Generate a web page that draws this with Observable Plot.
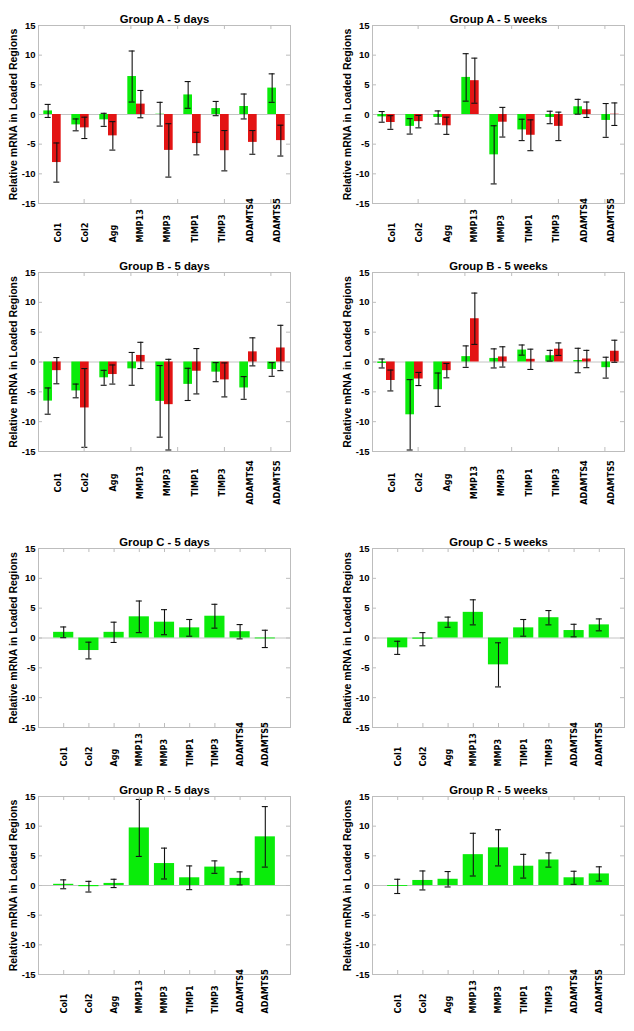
<!DOCTYPE html>
<html><head><meta charset="utf-8">
<script src="https://cdn.jsdelivr.net/npm/d3@7"></script>
<script src="https://cdn.jsdelivr.net/npm/@observablehq/plot@0.6"></script>
<style>
body{margin:0;background:#fff;font-family:"Liberation Sans",Arial,sans-serif}
#root{position:relative;width:634px;height:1031px;overflow:hidden;background:#fff}
#root svg{position:absolute}
</style></head><body><div id="root"></div>
<script>
const genes = ["Col1","Col2","Agg","MMP13","MMP3","TIMP1","TIMP3","ADAMTS4","ADAMTS5"];
const yTicks = [-15,-10,-5,0,5,10,15];
const singleXTicks = [1,2,3,4,5,6,7,8,9];
const groupXTicks = [2.13,3.8,5.47,7.14,8.8];
const yLabel = "Relative mRNA in Loaded Regions";

// Group A - 5 days (green / red series)
const aDaysGreen    = [0.6,-1.75,-0.9,6.4,0.05,3.3,1.0,1.35,4.45];
const aDaysGreenErr = [1.1,1.0,1.1,4.3,2.0,2.25,1.2,2.1,2.4];
const aDaysRed      = [-8.1,-2.25,-3.6,1.75,-6.05,-4.9,-6.1,-4.7,-4.4];
const aDaysRedErr   = [3.3,1.8,2.4,2.3,4.5,1.9,3.4,2.0,2.6];
// Group A - 5 weeks
const aWeeksGreen    = [-0.4,-2.0,-0.5,6.25,-6.8,-2.6,-0.5,1.3,-1.0];
const aWeeksGreenErr = [0.9,1.3,1.1,4.0,4.9,1.8,1.05,1.25,2.85];
const aWeeksRed      = [-1.35,-1.2,-1.9,5.7,-1.3,-3.5,-2.0,0.8,0.05];
const aWeeksRedErr   = [1.15,1.05,1.45,3.8,2.5,2.6,2.4,1.3,1.9];
// Group B - 5 days
const bDaysGreen    = [-6.55,-4.85,-2.65,-1.15,-6.6,-3.75,-1.7,-4.35,-1.25];
const bDaysGreenErr = [2.2,1.15,1.25,2.75,6.0,2.7,1.6,1.9,1.15];
const bDaysRed      = [-1.45,-7.7,-2.1,1.1,-7.15,-1.55,-3.0,1.7,2.35];
const bDaysRedErr   = [2.2,6.6,1.6,2.2,7.6,3.8,2.85,2.35,3.8];
// Group B - 5 weeks
const bWeeksGreen    = [-0.25,-8.85,-4.65,0.9,0.6,2.0,1.05,0.25,-0.95];
const bWeeksGreenErr = [0.75,5.9,2.8,1.8,1.6,0.85,0.9,2.05,1.75];
const bWeeksRed      = [-3.1,-2.85,-1.45,7.25,0.85,0.45,2.15,0.5,1.8];
const bWeeksRedErr   = [1.75,1.1,1.2,4.3,1.7,1.7,1.05,1.45,1.85];
// Group C
const cDays     = [0.95,-2.1,0.95,3.55,2.65,1.7,3.65,1.05,-0.15];
const cDaysErr  = [0.9,1.4,1.7,2.65,2.1,1.4,2.0,1.2,1.45];
const cWeeks    = [-1.65,-0.2,2.65,4.3,-4.5,1.7,3.4,1.25,2.2];
const cWeeksErr = [1.1,1.1,0.85,2.1,3.7,1.4,1.2,1.05,1.0];
// Group R
const rDays     = [0.2,-0.2,0.35,9.7,3.7,1.3,3.1,1.2,8.2];
const rDaysErr  = [0.75,0.9,0.7,4.8,2.6,2.0,1.05,1.1,5.1];
const rWeeks    = [-0.15,0.85,1.05,5.2,6.35,3.25,4.3,1.3,1.95];
const rWeeksErr = [1.2,1.6,1.3,3.6,3.05,2.0,1.2,1.1,1.2];

const GREEN = "#0aec0a", RED = "#e31414", AXIS = "#bdbdbd";

const rows = [
  {plotTop: 25,  plotH: 178, labelMode: "start"},
  {plotTop: 272, plotH: 179, labelMode: "middle"},
  {plotTop: 548, plotH: 179, labelMode: "start"},
  {plotTop: 796, plotH: 178, labelMode: "start"}
];
const cols = [
  {left: 0,   marginLeft: 38, marginRight: 27},
  {left: 317, marginLeft: 55, marginRight: 10}
];

const panels = [
  {title:"Group A - 5 days",  row:0, col:0, series:[[aDaysGreen,aDaysGreenErr,GREEN],[aDaysRed,aDaysRedErr,RED]]},
  {title:"Group A - 5 weeks", row:0, col:1, series:[[aWeeksGreen,aWeeksGreenErr,GREEN],[aWeeksRed,aWeeksRedErr,RED]]},
  {title:"Group B - 5 days",  row:1, col:0, series:[[bDaysGreen,bDaysGreenErr,GREEN],[bDaysRed,bDaysRedErr,RED]]},
  {title:"Group B - 5 weeks", row:1, col:1, series:[[bWeeksGreen,bWeeksGreenErr,GREEN],[bWeeksRed,bWeeksRedErr,RED]]},
  {title:"Group C - 5 days",  row:2, col:0, series:[[cDays,cDaysErr,GREEN]]},
  {title:"Group C - 5 weeks", row:2, col:1, series:[[cWeeks,cWeeksErr,GREEN]]},
  {title:"Group R - 5 days",  row:3, col:0, series:[[rDays,rDaysErr,GREEN]]},
  {title:"Group R - 5 weeks", row:3, col:1, series:[[rWeeks,rWeeksErr,GREEN]]}
];

const root = document.getElementById("root");
const MT = 25, MB = 62;

for (const p of panels) {
  const row = rows[p.row], col = cols[p.col];
  const grouped = p.series.length === 2;
  const xDomain = grouped ? [0.5, 9.5] : [0, 10];
  const pxPerUnit = 252 / (xDomain[1] - xDomain[0]);
  const pxPerY = row.plotH / 30;
  const barW = grouped ? 0.31 : 0.8;
  const capHalf = 3 / pxPerUnit;
  const tickLenX = 4 / pxPerUnit;
  const tickLenY = 4 / pxPerY;

  // build table rows from the arrays
  const bars = [];
  p.series.forEach(([vals, errs, color], s) => {
    vals.forEach((v, i) => {
      const c = i + 1;
      let x1, x2;
      if (grouped) { x1 = s === 0 ? c - barW : c; x2 = s === 0 ? c : c + barW; }
      else { x1 = c - barW / 2; x2 = c + barW / 2; }
      bars.push({gene: genes[i], x1, x2, xc: (x1 + x2) / 2, v, e: errs[i], color});
    });
  });
  const xTicks = grouped ? groupXTicks : singleXTicks;

  // category labels sit below the frame (offset in px converted to data units)
  const labelOffsetPx = row.labelMode === "start" ? 39 : 31;
  const labelY = -15 - labelOffsetPx / pxPerY;
  const labelX = grouped ? (d, i) => i + 1 + (5.5 - 0.6 * i) / pxPerUnit : (d, i) => i + 1;

  const marks = [
    Plot.ruleY([0], {stroke: "#c4c4c4", strokeWidth: 1}),
    Plot.rect(bars, {x1: "x1", x2: "x2", y1: 0, y2: "v", fill: "color"}),
    Plot.ruleX(bars, {x: "xc", y1: d => d.v - d.e, y2: d => d.v + d.e, stroke: "#111", strokeWidth: 1.1}),
    Plot.ruleY(bars, {y: d => d.v + d.e, x1: d => d.xc - capHalf, x2: d => d.xc + capHalf, stroke: "#111", strokeWidth: 1.1}),
    Plot.ruleY(bars, {y: d => d.v - d.e, x1: d => d.xc - capHalf, x2: d => d.xc + capHalf, stroke: "#111", strokeWidth: 1.1}),
    // inward ticks
    Plot.ruleY(yTicks, {y: d => d, x1: xDomain[0], x2: xDomain[0] + tickLenX, stroke: AXIS}),
    Plot.ruleY(yTicks, {y: d => d, x1: xDomain[1] - tickLenX, x2: xDomain[1], stroke: AXIS}),
    Plot.ruleX(xTicks, {x: d => d, y1: -15, y2: -15 + tickLenY, stroke: AXIS}),
    Plot.ruleX(xTicks, {x: d => d, y1: 15 - tickLenY, y2: 15, stroke: AXIS}),
    Plot.frame({stroke: AXIS, strokeWidth: 1}),
    // y tick labels
    Plot.text(yTicks, {y: d => d, text: d => String(d), frameAnchor: "left", textAnchor: "end", dx: -3, fontWeight: "bold", fontSize: 9.5, fill: "#000"}),
    // x category labels
    Plot.text(genes, {x: labelX, y: () => labelY, text: d => d, rotate: -90, textAnchor: row.labelMode,
      fontWeight: "bold", fontSize: 9, fontFamily: "'Liberation Sans Narrow', 'Arial Narrow', 'DejaVu Sans Condensed', sans-serif", fill: "#000"}),
    // y axis label
    Plot.text([yLabel], {frameAnchor: "left", dx: -25, rotate: -90, textAnchor: "middle", fontWeight: "bold", fontSize: 10.5, fill: "#000"}),
    // title
    Plot.text([p.title], {frameAnchor: "top", dy: -11, textAnchor: "middle", fontWeight: "bold", fontSize: 11.3, fill: "#000"})
  ];

  const svg = Plot.plot({
    width: 317,
    height: MT + row.plotH + MB,
    marginTop: MT, marginBottom: MB,
    marginLeft: col.marginLeft, marginRight: col.marginRight,
    x: {type: "linear", domain: xDomain, axis: null},
    y: {type: "linear", domain: [-15, 15], axis: null},
    color: {type: "identity"},
    style: {fontFamily: "'Liberation Sans', Arial, sans-serif", background: "none", overflow: "visible"},
    marks
  });
  svg.style.left = col.left + "px";
  svg.style.top = (row.plotTop - MT) + "px";
  root.appendChild(svg);
}
</script>
</body></html>
